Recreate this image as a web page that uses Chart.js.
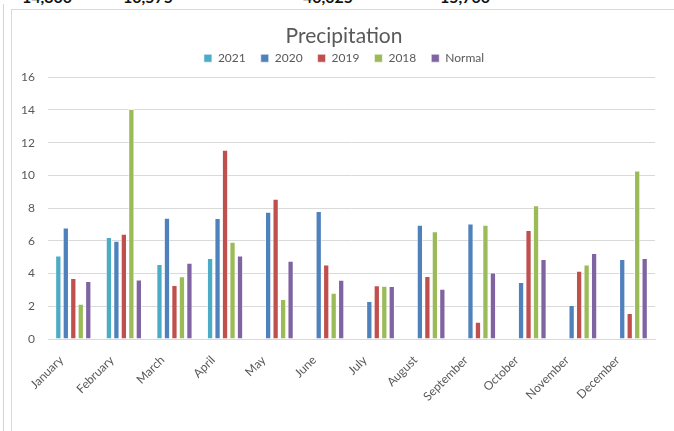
<!DOCTYPE html>
<html>
<head>
<meta charset="utf-8">
<script src="https://cdn.jsdelivr.net/npm/chart.js@4"></script>
<style>
  body { margin: 0; background: #fff; overflow: hidden; }
  #cells span { position: absolute; top: -13px; font: bold 16px Lato, sans-serif; color: #111; }
  #cellLine { position: absolute; left: 3px; top: 4px; width: 1px; height: 440px; background: #d4d4d4; }
  #frame { position: absolute; left: 11px; top: 9px; width: 700px; height: 440px; border: 1px solid #d9d9d9; }
  #wrap { position: absolute; left: 12px; top: 10px; width: 680px; height: 421px; }
</style>
</head>
<body>
<div id="cells">
  <span style="left:22px">14,300</span>
  <span style="left:123px">10,575</span>
  <span style="left:303px">40,025</span>
  <span style="left:440px">15,700</span>
</div>
<div id="cellLine"></div>
<div id="frame"></div>
<div id="wrap"><canvas id="precipChart"></canvas></div>
<script>
const months = ["January", "February", "March", "April", "May", "June",
    "July", "August", "September", "October", "November", "December"];
const seriesNames = ["2021", "2020", "2019", "2018", "Normal"];
const y2021 = [5.11, 6.23, 4.58, 4.95, null, null, null, null, null, null, null, null];
const y2020 = [6.82, 6.0, 7.41, 7.39, 7.78, 7.82, 2.32, 6.98, 7.06, 3.48, 2.08, 4.89];
const y2019 = [3.73, 6.43, 3.30, 11.56, 8.57, 4.56, 3.28, 3.85, 1.06, 6.66, 4.17, 1.59];
const y2018 = [2.16, 14.05, 3.83, 5.94, 2.44, 2.83, 3.26, 6.58, 6.98, 8.18, 4.56, 10.3];
const normal = [3.54, 3.64, 4.66, 5.11, 4.78, 3.62, 3.24, 3.07, 4.07, 4.89, 5.25, 4.95];
const yTicks = [0, 2, 4, 6, 8, 10, 12, 14, 16];

const colors = ["#4BACC6", "#4F81BD", "#C0504D", "#9BBB59", "#8064A2"];
const textColor = "#595959";
const fontFamily = "Lato, 'Open Sans', sans-serif";

const ctx = document.getElementById("precipChart").getContext("2d");
const allSeries = [y2021, y2020, y2019, y2018, normal];

// a bit more room under the legend, without moving the legend itself
const legendGap = {
    id: "legendGap",
    beforeInit(chart) {
        const fit = chart.legend.fit;
        chart.legend.fit = function () {
            fit.call(this);
            this.height += 3;
        };
    }
};

new Chart(ctx, {
    type: "bar",
    data: {
        labels: months,
        datasets: allSeries.map((vals, i) => ({
            label: seriesNames[i],
            data: vals,
            backgroundColor: colors[i],
            borderColor: "rgba(255,255,255,0.6)",
            borderWidth: 1,
            categoryPercentage: 0.74,
            barPercentage: 0.84
        }))
    },
    options: {
        responsive: true,
        maintainAspectRatio: false,
        animation: false,
        layout: { padding: { left: 0, right: 16, top: 0, bottom: 0 } },
        plugins: {
            title: {
                display: true,
                text: "Precipitation",
                color: textColor,
                font: { family: fontFamily, size: 21, weight: "normal" },
                padding: { top: 14, bottom: -12 }
            },
            legend: {
                position: "top",
                labels: {
                    color: textColor,
                    font: { family: fontFamily, size: 12 },
                    boxWidth: 8,
                    boxHeight: 8,
                    padding: 15
                }
            },
            tooltip: { enabled: false }
        },
        scales: {
            x: {
                grid: { display: false },
                border: { color: "#d9d9d9" },
                ticks: {
                    color: textColor,
                    font: { family: fontFamily, size: 12 },
                    maxRotation: 45,
                    minRotation: 45,
                    autoSkip: false,
                    padding: 6,
                    labelOffset: -12
                },
                afterFit: s => { s.height = 92; }
            },
            y: {
                min: 0,
                max: 16,
                afterBuildTicks: s => { s.ticks = yTicks.map(v => ({ value: v })); },
                grid: { color: "#d9d9d9", drawTicks: false },
                border: { display: false },
                ticks: {
                    color: textColor,
                    font: { family: fontFamily, size: 12 },
                    padding: 13
                },
                afterFit: s => { s.width = 36; }
            },
            // empty right axis, only keeps the plot area off the chart's right edge
            yRight: {
                position: "right",
                grid: { display: false },
                border: { display: false },
                ticks: { display: false },
                afterFit: s => { s.width = 21; }
            }
        }
    },
    plugins: [legendGap]
});
</script>
</body>
</html>
